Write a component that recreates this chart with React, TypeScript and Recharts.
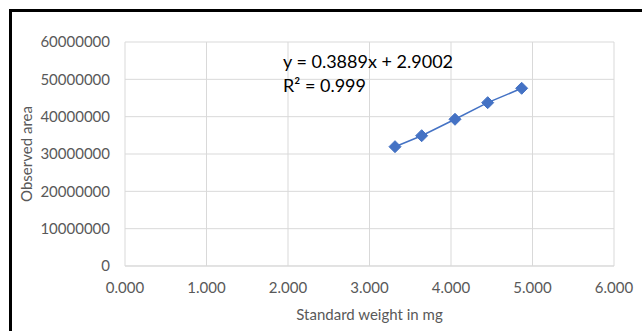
import { ScatterChart, Scatter, XAxis, YAxis, CartesianGrid, Label } from 'recharts';

const weights = [3.313, 3.64, 4.049, 4.45, 4.867];
const areas = [31960000, 34900000, 39300000, 43750000, 47600000];
const xTicks = [0, 1, 2, 3, 4, 5, 6];
const yTicks = [0, 10000000, 20000000, 30000000, 40000000, 50000000, 60000000];
const equation = 'y = 0.3889x + 2.9002';
const rSquared = 'R² = 0.999';

const data = weights.map((w, i) => ({ x: w, y: areas[i] }));

const FONT = 'Lato, "Open Sans", sans-serif';
const BLUE = '#4472C4';

// diamond marker, same as Excel's default
const Diamond = (props: any) => {
  const { cx, cy } = props;
  const r = 6;
  return (
    <path
      d={`M${cx},${cy - r}L${cx + r},${cy}L${cx},${cy + r}L${cx - r},${cy}Z`}
      fill={BLUE}
      stroke={BLUE}
      strokeWidth={1}
    />
  );
};

export default function App() {
  return (
    <div style={{ position: 'fixed', left: 0, top: 0, width: 642, height: 331, background: '#fff', overflow: 'hidden' }}>
      <div
        style={{
          position: 'absolute',
          left: 9,
          top: 9,
          width: 700,
          height: 400,
          border: '3px solid #000',
          boxSizing: 'border-box',
        }}
      />
      <div style={{ position: 'absolute', left: 0, top: 0 }}>
        <ScatterChart width={642} height={331} margin={{ top: 42, right: 28, bottom: 0, left: 0 }}>
          <CartesianGrid stroke="#d9d9d9" strokeWidth={1} />
          <XAxis
            type="number"
            dataKey="x"
            domain={[0, 6]}
            ticks={xTicks}
            tickFormatter={(v: number) => v.toFixed(3)}
            height={65}
            tickSize={0}
            tickMargin={16}
            axisLine={{ stroke: '#d9d9d9' }}
            tickLine={false}
            tick={{ fill: '#595959', fontSize: 15, fontFamily: FONT }}
          >
            <Label
              value="Standard weight in mg"
              position="insideBottom"
              offset={11}
              style={{ fill: '#595959', fontSize: 15, fontFamily: FONT }}
            />
          </XAxis>
          <YAxis
            type="number"
            dataKey="y"
            domain={[0, 60000000]}
            ticks={yTicks}
            width={125}
            tickSize={0}
            tickMargin={15}
            axisLine={false}
            tickLine={false}
            tick={{ fill: '#595959', fontSize: 15, fontFamily: FONT }}
          >
            <Label
              value="Observed area"
              angle={-90}
              position="insideLeft"
              offset={27}
              style={{ fill: '#595959', fontSize: 15, fontFamily: FONT, textAnchor: 'middle' }}
            />
          </YAxis>
          <Scatter
            data={data}
            line={{ stroke: BLUE, strokeWidth: 1.5 }}
            shape={<Diamond />}
            isAnimationActive={false}
          />
        </ScatterChart>
      </div>
      <div
        style={{
          position: 'absolute',
          left: 283,
          top: 49,
          fontFamily: FONT,
          fontSize: 18,
          lineHeight: '24px',
          color: '#000',
          whiteSpace: 'nowrap',
        }}
      >
        <div>{equation}</div>
        <div>{rSquared}</div>
      </div>
    </div>
  );
}
